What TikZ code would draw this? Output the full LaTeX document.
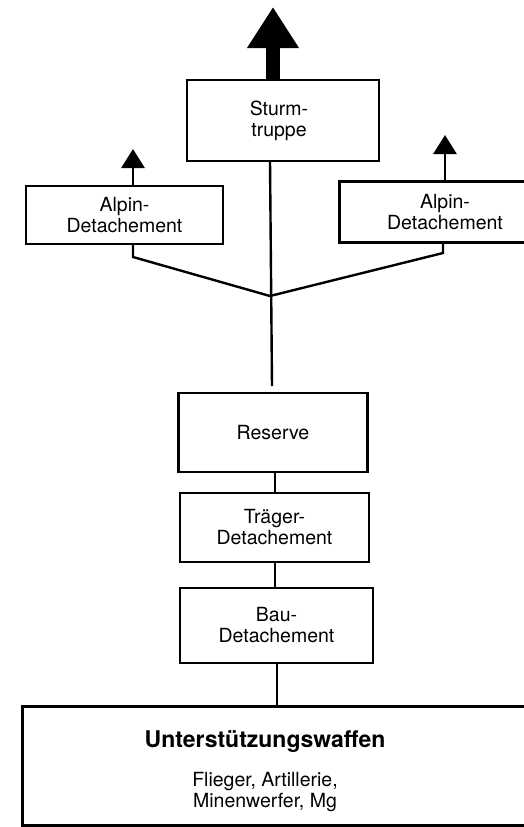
\documentclass[tikz,border=0pt]{standalone}
\usepackage{fontspec}
\setmainfont{TeX Gyre Heros}
\usetikzlibrary{arrows.meta}

\begin{document}
\begin{tikzpicture}[x=1pt,y=-1pt,
  unit/.style={draw,line width=2.8pt,inner sep=0pt,align=center,
    font=\fontsize{19.5}{21}\selectfont},
  openunit/.style={inner sep=0pt,align=center,font=\fontsize{19.5}{21}\selectfont},
  frame/.style={line width=2.8pt},
  link/.style={line width=2.4pt},
  smallup/.style={line width=2.8pt,-{Triangle[width=23pt,length=19pt]}},
  bigup/.style={line width=14pt,-{Triangle[width=49pt,length=41pt]}},
  label/.style={inner sep=0pt,align=center,font=\fontsize{19.5}{21}\selectfont}]

\useasboundingbox (0,0) rectangle (524,827);
\clip (0,0) rectangle (524,827);

% units
\node[unit,minimum width=192pt,minimum height=81pt] (storm) at (283,120.5) {\hspace*{-8pt}Sturm-\\\hspace*{-8pt}truppe};
\node[unit,minimum width=197pt,minimum height=58pt] (alpL) at (124.5,215) {Alpin-\\Detachement};
\node[unit,minimum width=189pt,minimum height=79pt] (res) at (273,432.5) {Reserve};
\node[unit,minimum width=189pt,minimum height=69pt] (trag) at (274.5,527.5) {Träger-\\Detachement};
\node[unit,minimum width=193pt,minimum height=75pt] (bau) at (276.5,625.5) {Bau-\\Detachement};

% units running off the right edge: three sides only
\node[openunit,minimum width=210pt,minimum height=60pt] (alpR) at (445,212) {Alpin-\\Detachement};
\draw[frame] (alpR.north east) -- (alpR.north west) -- (alpR.south west) -- (alpR.south east);
\node[inner sep=0pt,minimum width=560pt,minimum height=118pt] (sup) at (303,766) {};
\draw[frame] (sup.north east) -- (sup.north west) -- (sup.south west) -- (sup.south east);
\node[label,font=\fontsize{23}{25}\selectfont\bfseries] (supT) at (265,742) {Unterstützungswaffen};
\node[label,anchor=north] (supL) at (265,772) {Flieger, Artillerie,\\Minenwerfer, Mg};

% attack arrows
\coordinate (stormTop) at (273,80);
\coordinate (stormTip) at (273,7);
\draw[bigup] (stormTop) -- (stormTip);
\coordinate (alpLTop) at (133,186);
\coordinate (alpLTip) at (133,149);
\draw[smallup] (alpLTop) -- (alpLTip);
\coordinate (alpRTop) at (445,182);
\coordinate (alpRTip) at (445,135);
\draw[smallup] (alpRTop) -- (alpRTip);

% links
\coordinate (stormBot) at (270,161);
\coordinate (resTop) at (272,386);
\coordinate (J) at (270,296);
\draw[link] (stormBot) -- (resTop);
\coordinate (alpLBot) at (133,244);
\coordinate (alpRBot) at (443,242);
\draw[link] (alpLBot) -- (133,257) -- (J);
\draw[link] (alpRBot) -- (443,253) -- (J);
\draw[link] (res.south -| 275,0) -- (trag.north -| 275,0);
\draw[link] (trag.south -| 275,0) -- (bau.north -| 275,0);
\draw[link] (bau.south -| 277,0) -- (sup.north -| 277,0);
\end{tikzpicture}
\end{document}
